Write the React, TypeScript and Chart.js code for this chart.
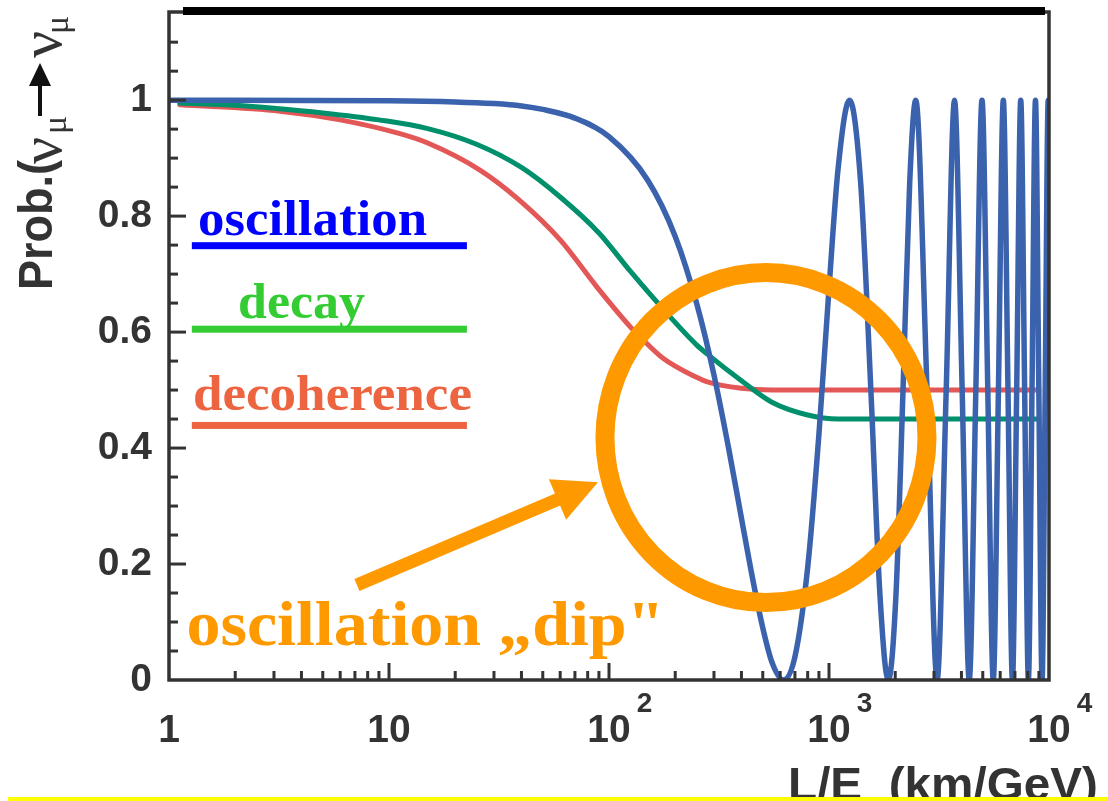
import React, { useEffect, useRef } from 'react';
import { Chart, registerables } from 'chart.js';

Chart.register(...registerables);

// ---------- data ----------
const oscLE = [1, 10, 20, 30, 40, 50, 70, 100, 150, 200, 250, 300, 350, 400, 450, 500, 550, 620, 700, 800, 900, 1000, 1100, 1240, 1395, 1550, 1705, 1860, 2015, 2170, 2325, 2480, 2790, 3100, 3410, 3720, 4030, 4340, 4650, 4960, 5270, 5580, 5890, 6200, 6510, 6820, 7130, 7440, 7750, 8060, 8370, 8680, 8990, 9300, 9610, 9920, 10000];
const oscP = [1.0, 0.999, 0.997, 0.994, 0.99, 0.984, 0.969, 0.937, 0.862, 0.765, 0.65, 0.526, 0.399, 0.279, 0.174, 0.09, 0.031, 0.0, 0.04, 0.194, 0.424, 0.675, 0.882, 1.0, 0.854, 0.5, 0.146, 0.0, 0.146, 0.5, 0.854, 1.0, 0.5, 0.0, 0.5, 1.0, 0.5, 0.0, 0.5, 1.0, 0.5, 0.0, 0.5, 1.0, 0.5, 0.0, 0.5, 1.0, 0.5, 0.0, 0.5, 1.0, 0.5, 0.0, 0.5, 1.0, 0.999];

const decayLE = [1.12, 2, 3, 5, 9, 15, 25, 40, 60, 90, 125, 175, 250, 280, 400, 550, 800, 1100, 2000, 9000];
const decayP = [0.995, 0.991, 0.986, 0.978, 0.966, 0.951, 0.924, 0.884, 0.833, 0.771, 0.705, 0.641, 0.578, 0.562, 0.516, 0.479, 0.457, 0.45, 0.45, 0.45];

const decohLE = [1.12, 3.2, 6, 11, 15, 26, 39, 60, 88, 125, 140, 176, 250, 280, 400, 550, 9000];
const decohP = [0.992, 0.981, 0.966, 0.943, 0.926, 0.879, 0.828, 0.759, 0.678, 0.609, 0.59, 0.555, 0.522, 0.514, 0.503, 0.5, 0.5];

const yTickValues = [0, 0.2, 0.4, 0.6, 0.8, 1];
const yTickLabels = ['0', '0.2', '0.4', '0.6', '0.8', '1'];
const xTickValues = [1, 10, 100, 1000, 10000];
const xTickBase = ['1', '10', '10', '10', '10'];
const xTickExp = ['', '', '2', '3', '4'];

const legendLabels = ['oscillation', 'decay', 'decoherence'];
const dipLabel = 'oscillation \u201Edip"';
const xTitle = 'L/E  (km/GeV)';

// ---------- styles ----------
const CURVE_BLUE = '#3a62ad';
const CURVE_GREEN = '#00906c';
const CURVE_RED = '#e35757';
const LEG_COLORS = ['#0000ff', '#33cc33', '#ec6440'];
const ORANGE = '#ff9900';
const AXIS = '#333333';
const SANS = '"Liberation Sans", Arial, sans-serif';
const SERIF = '"Liberation Serif", "Times New Roman", serif';

// annotation placement (data coordinates)
const annot = {
  legendTextX: [1.355, 2.06, 1.285],
  legendTextY: [0.767, 0.624, 0.4655],
  legendTextW: [229, 127, 279],
  legendBarX: [1.27, 22.6],
  legendBarY: [0.749, 0.605, 0.439],
  circle: { x: 517, y: 0.418, rx: 161, ry: 165 },
  arrowTail: { x: 7.15, y: 0.164 },
  arrowTip: { x: 89.1, y: 0.341 },
  dip: { x: 1.2, y: 0.060, w: 478 },
};

function fitText(ctx: CanvasRenderingContext2D, text: string, x: number, y: number, font: string, width: number) {
  ctx.font = font;
  const w = ctx.measureText(text).width;
  ctx.save();
  ctx.translate(x, y);
  ctx.scale(width / w, 1);
  ctx.fillText(text, 0, 0);
  ctx.restore();
}

function rotText(ctx: CanvasRenderingContext2D, text: string, bx: number, sy: number, font: string, len?: number) {
  ctx.save();
  ctx.translate(bx, sy);
  ctx.rotate(-Math.PI / 2);
  ctx.font = font;
  ctx.textAlign = 'left';
  ctx.textBaseline = 'alphabetic';
  if (len) {
    const w = ctx.measureText(text).width;
    ctx.scale(len / w, 1);
  }
  ctx.fillText(text, 0, 0);
  ctx.restore();
}

const overlay = {
  id: 'overlay',
  afterDatasetsDraw(chart: any) {
    const { ctx, chartArea: ca } = chart;
    const xs = chart.scales.x;
    const ys = chart.scales.y;
    const P = (xv: number, yv: number) => [xs.getPixelForValue(xv), ys.getPixelForValue(yv)];
    ctx.save();

    // frame
    ctx.strokeStyle = AXIS;
    ctx.lineWidth = 3.5;
    ctx.lineCap = 'square';
    ctx.strokeRect(ca.left, ca.top, ca.right - ca.left, ca.bottom - ca.top);
    ctx.fillStyle = '#000';
    ctx.fillRect(ca.left + 14, ca.top - 5, ca.right - ca.left - 18, 8);

    // y ticks (inward)
    ctx.lineWidth = 3;
    ctx.lineCap = 'butt';
    for (let k = 1; k <= 23; k++) {
      const v = k * 0.05;
      const py = ys.getPixelForValue(v);
      if (py < ca.top + 2) continue;
      const major = k % 4 === 0;
      ctx.beginPath();
      ctx.moveTo(ca.left, py);
      ctx.lineTo(ca.left + (major ? 17 : 9), py);
      ctx.stroke();
    }
    // x ticks (inward)
    for (let d = 1; d <= 1000; d *= 10) {
      for (let m = 1; m <= 9; m++) {
        const v = m * d;
        if (v === 1) continue;
        const pxv = xs.getPixelForValue(v);
        const major = m === 1;
        ctx.beginPath();
        ctx.moveTo(pxv, ca.bottom);
        ctx.lineTo(pxv, ca.bottom - (major ? 17 : 9));
        ctx.stroke();
      }
    }

    // x tick labels
    ctx.fillStyle = AXIS;
    ctx.textBaseline = 'alphabetic';
    xTickValues.forEach((v, i) => {
      const pxv = xs.getPixelForValue(v);
      ctx.font = `bold 39px ${SANS}`;
      ctx.textAlign = 'center';
      ctx.fillText(xTickBase[i], pxv, 742);
      if (xTickExp[i]) {
        const w = ctx.measureText(xTickBase[i]).width;
        ctx.font = `bold 28px ${SANS}`;
        ctx.textAlign = 'left';
        ctx.fillText(xTickExp[i], pxv + w / 2 + 6, 712);
      }
    });

    // x title
    ctx.textAlign = 'left';
    fitText(ctx, xTitle, 788, 800, `bold 46px ${SANS}`, 310);

    // y title
    ctx.fillStyle = AXIS;
    rotText(ctx, 'Prob.(', 52, 290, `bold 48px ${SANS}`, 130);
    rotText(ctx, '\u03BD', 61, 164, `60px ${SERIF}`);
    rotText(ctx, '\u03BC', 66, 134, `34px ${SERIF}`);
    rotText(ctx, '\u03BD', 61, 58, `60px ${SERIF}`);
    rotText(ctx, '\u03BC', 68, 34, `34px ${SERIF}`);
    ctx.fillStyle = '#111';
    ctx.strokeStyle = '#111';
    ctx.lineWidth = 4;
    ctx.beginPath();
    ctx.moveTo(40, 116);
    ctx.lineTo(40, 82);
    ctx.stroke();
    ctx.beginPath();
    ctx.moveTo(40, 63);
    ctx.lineTo(29, 86);
    ctx.lineTo(51, 86);
    ctx.closePath();
    ctx.fill();

    // legend
    legendLabels.forEach((lab, i) => {
      ctx.fillStyle = LEG_COLORS[i];
      const [tx, ty] = P(annot.legendTextX[i], annot.legendTextY[i]);
      ctx.textAlign = 'left';
      fitText(ctx, lab, tx, ty, `bold 50px ${SERIF}`, annot.legendTextW[i]);
      const [bx0, by] = P(annot.legendBarX[0], annot.legendBarY[i]);
      const [bx1] = P(annot.legendBarX[1], annot.legendBarY[i]);
      ctx.fillRect(bx0, by - 3.5, bx1 - bx0, 7);
    });

    // orange circle
    const c = annot.circle;
    const [cx, cy] = P(c.x, c.y);
    ctx.strokeStyle = ORANGE;
    ctx.lineWidth = 19;
    ctx.beginPath();
    ctx.ellipse(cx, cy, c.rx, c.ry, 0, 0, Math.PI * 2);
    ctx.stroke();

    // arrow
    const [ax, ay] = P(annot.arrowTail.x, annot.arrowTail.y);
    const [tx2, ty2] = P(annot.arrowTip.x, annot.arrowTip.y);
    const len = Math.hypot(tx2 - ax, ty2 - ay);
    const ux = (tx2 - ax) / len, uy = (ty2 - ay) / len;
    const nx = -uy, ny = ux;
    const hb = [tx2 - ux * 44, ty2 - uy * 44];
    ctx.lineWidth = 13;
    ctx.lineCap = 'butt';
    ctx.beginPath();
    ctx.moveTo(ax, ay);
    ctx.lineTo(hb[0] + ux * 4, hb[1] + uy * 4);
    ctx.stroke();
    ctx.fillStyle = ORANGE;
    ctx.beginPath();
    ctx.moveTo(tx2, ty2);
    ctx.lineTo(hb[0] + nx * 22, hb[1] + ny * 22);
    ctx.lineTo(hb[0] - nx * 22, hb[1] - ny * 22);
    ctx.closePath();
    ctx.fill();

    // dip text
    const [dx, dy] = P(annot.dip.x, annot.dip.y);
    ctx.fillStyle = ORANGE;
    ctx.textAlign = 'left';
    fitText(ctx, dipLabel, dx, dy, `bold 64px ${SERIF}`, annot.dip.w);

    // yellow bottom line
    ctx.fillStyle = '#ffff00';
    ctx.fillRect(8, 797, 1100, 4);

    ctx.restore();
  },
};

export default function App() {
  const ref = useRef<HTMLCanvasElement>(null);
  useEffect(() => {
    if (!ref.current) return;
    const mk = (xs: number[], ys: number[]) => xs.map((v, i) => ({ x: v, y: ys[i] }));
    const common = {
      pointRadius: 0,
      borderWidth: 5.5,
      fill: false,
      cubicInterpolationMode: 'monotone' as const,
      borderJoinStyle: 'round' as const,
      borderCapStyle: 'round' as const,
    };
    const chart = new Chart(ref.current, {
      type: 'line',
      data: {
        datasets: [
          { label: 'oscillation', data: mk(oscLE, oscP), borderColor: CURVE_BLUE, ...common },
          { label: 'decay', data: mk(decayLE, decayP), borderColor: CURVE_GREEN, ...common, borderWidth: 5 },
          { label: 'decoherence', data: mk(decohLE, decohP), borderColor: CURVE_RED, ...common, borderWidth: 5 },
        ],
      },
      options: {
        responsive: false,
        animation: false,
        layout: { padding: { left: 0, top: 12, right: 59, bottom: 0 } },
        plugins: { legend: { display: false }, tooltip: { enabled: false }, title: { display: false } },
        scales: {
          x: {
            type: 'logarithmic',
            min: 1,
            max: 10000,
            grid: { display: false, drawTicks: false },
            border: { display: false },
            ticks: { display: false },
            afterFit: (s: any) => {
              s.height = 121;
              s.paddingLeft = 0; s.paddingRight = 0; s.paddingTop = 0; s.paddingBottom = 0;
            },
          },
          y: {
            type: 'linear',
            min: 0,
            max: 1.152,
            grid: { display: false, drawTicks: false },
            border: { display: false },
            afterBuildTicks: (s: any) => { s.ticks = yTickValues.map((v) => ({ value: v })); },
            ticks: {
              padding: 17,
              color: AXIS,
              font: { family: SANS, size: 39, weight: 'bold' },
              callback: (v: any) => yTickLabels[yTickValues.indexOf(Number(v))] ?? '',
            },
            afterFit: (s: any) => {
              s.width = 169;
              s.paddingLeft = 0; s.paddingRight = 0; s.paddingTop = 0; s.paddingBottom = 0;
            },
          },
        },
      } as any,
      plugins: [overlay],
    });
    return () => chart.destroy();
  }, []);
  return (
    <div style={{ position: 'absolute', left: 0, top: 0, width: 1108, height: 801, background: '#fff' }}>
      <canvas ref={ref} width={1108} height={801} style={{ display: 'block' }} />
    </div>
  );
}
